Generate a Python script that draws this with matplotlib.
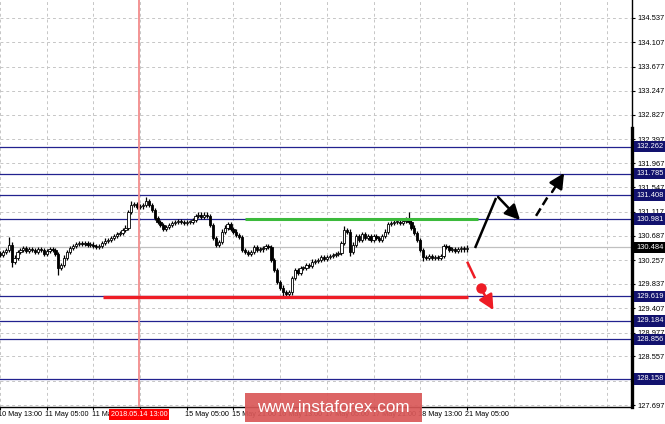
import matplotlib
matplotlib.use("Agg")
import matplotlib.pyplot as plt
from matplotlib.patches import Rectangle
import numpy as np

# hourly closes, 10 May 13:00 -> 21 May 05:00
closes = [
    130.35, 130.40, 130.44, 130.53, 130.23, 130.30, 130.40, 130.44, 130.47, 130.42,
    130.45, 130.44, 130.40, 130.45, 130.44, 130.37, 130.42, 130.45, 130.44, 130.37,
    130.12, 130.17, 130.30, 130.40, 130.47, 130.51, 130.54, 130.56, 130.54, 130.56,
    130.53, 130.53, 130.51, 130.49, 130.51, 130.56, 130.60, 130.61, 130.65, 130.68,
    130.72, 130.74, 130.79, 130.83, 131.11, 131.23, 131.25, 131.20, 131.21, 131.23,
    131.30, 131.23, 131.14, 131.00, 130.93, 130.88, 130.81, 130.84, 130.88, 130.91,
    130.93, 130.95, 130.93, 130.91, 130.93, 130.93, 130.97, 131.04, 131.06, 131.02,
    131.06, 131.04, 130.88, 130.65, 130.53, 130.58, 130.76, 130.83, 130.90, 130.81,
    130.76, 130.70, 130.67, 130.44, 130.40, 130.37, 130.40, 130.49, 130.44, 130.45,
    130.47, 130.51, 130.49, 130.26, 130.08, 129.87, 129.77, 129.69, 129.66, 129.69,
    129.94, 130.08, 130.03, 130.12, 130.12, 130.17, 130.15, 130.23, 130.24, 130.26,
    130.31, 130.28, 130.31, 130.33, 130.35, 130.37, 130.38, 130.56, 130.79, 130.76,
    130.40, 130.53, 130.68, 130.61, 130.72, 130.65, 130.68, 130.61, 130.68, 130.65,
    130.61, 130.68, 130.76, 130.90, 130.91, 130.93, 130.93, 130.91, 130.95, 130.98,
    130.93, 130.83, 130.74, 130.61, 130.44, 130.31, 130.30, 130.33, 130.30, 130.31,
    130.30, 130.33, 130.51, 130.49, 130.44, 130.45, 130.42, 130.45, 130.47, 130.45,
    130.48,
]
first_open = 130.38
# bars with long shadows
spike_hi = {3: 130.66, 45: 131.31, 50: 131.37, 118: 130.86, 140: 131.11}
spike_lo = {4: 130.14, 20: 129.99, 97: 129.62, 98: 129.58, 120: 130.33, 145: 130.24}

time_labels = ["10 May 13:00", "11 May 05:00", "11 May 21:00", "", "15 May 05:00",
               "15 May 21:00", "16 May 13:00", "17 May 05:00", "17 May 21:00",
               "18 May 13:00", "21 May 05:00"]
cursor_bar = 47.6
cursor_label = "2018.05.14 13:00"

price_ticks = [134.537, 134.107, 133.677, 133.247, 132.827, 132.397, 131.967, 131.547,
               131.117, 130.687, 130.257, 129.837, 129.407, 128.977, 128.557, 128.127,
               127.697]
levels = [132.262, 131.785, 131.408, 130.981, 129.619, 129.184, 128.856, 128.158]
current_price = 130.484

resistance = (84, 163.8, 130.981)
support = (35.3, 160.4, 129.60)

# scenario arrows (bar, price)
up_leg = [(162.8, 130.472), (170.0, 131.356)]
pullback = [(170.7, 131.373), (178.2, 130.967)]
up_dash = [(183.7, 131.04), (188.1, 131.409)]
up_target = [(189.2, 131.462), (193.3, 131.797)]
down_dash = [(160.1, 130.23), (162.8, 129.936)]
down_dot = (164.7, 129.76)
down_target = [(165.5, 129.694), (169.1, 129.376)]

navy = "#22228f"
navy_box = "#12126e"

plt.rcParams['font.family'] = ['Liberation Sans', 'DejaVu Sans']

fig = plt.figure(figsize=(6.65, 4.24), dpi=100)
ax = fig.add_axes([0, 17 / 424, 632 / 665, 407 / 424])
ax.set_xlim(0, 632 / 2.918)
ax.set_ylim(127.662, 134.855)

# grid
for p in price_ticks:
    ax.axhline(p, color="#c6c6c6", lw=0.7, ls=(0, (3, 3)), zorder=1)
grid_bars = np.arange(0, 217, 16)
for g in grid_bars:
    ax.axvline(g, color="#c6c6c6", lw=0.7, ls=(0, (3, 3)), zorder=1)

for lv in levels:
    ax.axhline(lv, color=navy, lw=0.9, zorder=2)
ax.axhline(current_price, color="#c0c0c0", lw=0.9, zorder=2)

# candles
x = np.arange(len(closes))
opens = [first_open] + closes[:-1]
highs = [max(o, c) + 0.04 for o, c in zip(opens, closes)]
lows = [min(o, c) - 0.04 for o, c in zip(opens, closes)]
for k, v in spike_hi.items():
    highs[k] = v
for k, v in spike_lo.items():
    lows[k] = v
bottoms = [min(o, c) for o, c in zip(opens, closes)]
heights = [max(abs(c - o), 0.012) for o, c in zip(opens, closes)]
faces = ["white" if c >= o else "black" for o, c in zip(opens, closes)]
ax.vlines(x, lows, highs, color="black", lw=0.9, zorder=3)
ax.bar(x, heights, bottom=bottoms, width=0.78, color=faces, edgecolor="black",
       linewidth=0.6, zorder=4)

ax.axvline(cursor_bar, color="#f28b8b", lw=1.3, zorder=4.5)

ax.hlines(resistance[2], resistance[0], resistance[1], color="#3cba3c", lw=2.2, zorder=5)
ax.hlines(support[2], support[0], support[1], color="#ee1c25", lw=2.4, zorder=5)

# scenario arrows
def seg(pts, **kw):
    ax.plot([p[0] for p in pts], [p[1] for p in pts], solid_capstyle="butt", zorder=6, **kw)

def arrow(pts, color):
    ax.annotate("", xy=pts[1], xytext=pts[0], zorder=6,
                arrowprops=dict(arrowstyle="-|>,head_length=0.9,head_width=0.45",
                                color=color, lw=1.8, shrinkA=0, shrinkB=0,
                                mutation_scale=10))

seg(up_leg, color="black", lw=1.8)
arrow(pullback, "black")
seg(up_dash, color="black", lw=1.8, ls=(0, (3.5, 1.6)))
arrow(up_target, "black")
seg(down_dash, color="#ee1c25", lw=1.8)
ax.plot([down_dot[0]], [down_dot[1]], "o", color="#ee1c25", ms=6.5, zorder=6)
arrow(down_target, "#ee1c25")

# axes frame
for s in ["left", "top"]:
    ax.spines[s].set_visible(False)
ax.spines["right"].set_linewidth(1.0)
ax.spines["bottom"].set_linewidth(1.0)
ytr = ax.get_yaxis_transform()
ax.plot([1, 1], [127.662, 132.59], transform=ytr, color="black", lw=2.4,
        clip_on=False, zorder=7)

ax.yaxis.tick_right()
ax.set_yticks(price_ticks)
ax.set_yticklabels([f"{p:.3f}" for p in price_ticks])
ax.tick_params(axis="y", length=2.5, width=0.8, pad=1.5, labelsize=5.4)
ax.set_xticks(grid_bars[:len(time_labels)])
ax.set_xticklabels([])
ax.tick_params(axis="x", length=2, width=0.8)

for lv in levels:
    ax.text(1.0 + 4 / 632, lv, f"{lv:.3f}", transform=ytr, fontsize=5.4, color="white",
            va="center", ha="left", clip_on=False, zorder=8,
            bbox=dict(boxstyle="square,pad=0.3", fc=navy_box, ec="none"))
ax.text(1.0 + 4 / 632, current_price, f"{current_price:.3f}", transform=ytr, fontsize=5.4,
        color="white", va="center", ha="left", clip_on=False, zorder=8,
        bbox=dict(boxstyle="square,pad=0.3", fc="black", ec="none"))

xtr = ax.get_xaxis_transform()
for g, lab in zip(grid_bars, time_labels):
    if lab:
        ax.text(g - 0.6, -0.018, lab, transform=xtr, fontsize=5.2, color="black",
                ha="left", va="center", clip_on=False)
ax.text(cursor_bar, -0.018, cursor_label, transform=xtr, fontsize=5.2, color="white",
        ha="center", va="center", clip_on=False, zorder=8,
        bbox=dict(boxstyle="square,pad=0.25", fc="#ff0000", ec="none"))

# watermark
fig.add_artist(Rectangle((245 / 665, 2 / 424), 177 / 665, 29 / 424,
                         transform=fig.transFigure, fc="#d95858", ec="none",
                         alpha=0.92, zorder=10))
fig.text(333 / 665, 16 / 424, "www.instaforex.com", color="white", fontsize=12.3,
         ha="center", va="center", zorder=11)

fig.savefig("out.png", dpi=100)
